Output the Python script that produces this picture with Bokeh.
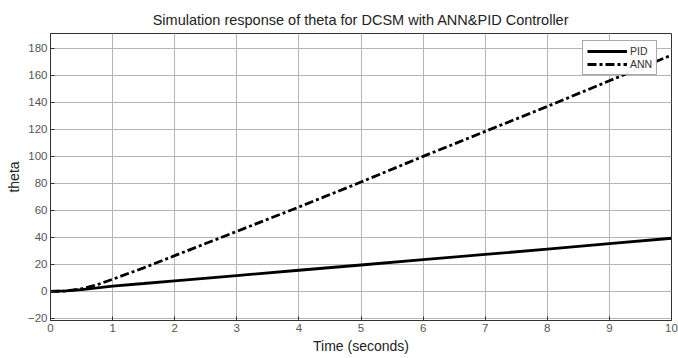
from bokeh.plotting import figure
from bokeh.models import Range1d, FixedTicker, Legend, LegendItem
from bokeh.embed import file_html
from bokeh.resources import INLINE

# Data
time_s = [0, 0.25, 0.5, 0.75, 1, 1.5, 2, 3, 4, 5, 6, 7, 8, 9, 10]
pid_theta = [0, 0.4, 1.3, 2.6, 4, 5.9, 7.9, 11.8, 15.7, 19.6, 23.5, 27.4, 31.4, 35.4, 39.4]
ann_theta = [0, 0.3, 2, 5, 9, 17.5, 26.5, 44.5, 62.5, 81, 100, 118.5, 137, 156, 175]
x_ticks = list(range(0, 11))
y_ticks = list(range(-20, 181, 20))

FONT = "Liberation Sans"

p = figure(width=678, height=358, output_backend="svg", toolbar_location=None,
           x_range=Range1d(0, 10), y_range=Range1d(-21.5, 191),
           min_border_left=50, min_border_right=7, min_border_top=33, min_border_bottom=38)

p.title.text = "Simulation response of theta for DCSM with ANN&PID Controller"
p.title.text_font = FONT
p.title.text_font_size = "14.5px"
p.title.text_font_style = "normal"
p.title.text_color = "#222222"
p.title.align = "center"
p.title.offset = 12
p.title.standoff = 11

p.outline_line_color = "#333333"
p.outline_line_width = 1

for ax in (p.xaxis[0], p.yaxis[0]):
    ax.axis_line_color = "#333333"
    ax.major_tick_in = 4
    ax.major_tick_out = 0
    ax.minor_tick_line_color = None
    ax.major_tick_line_color = "#333333"
    ax.major_label_text_font = FONT
    ax.major_label_text_font_size = "11.5px"
    ax.major_label_text_color = "#555555"
    ax.axis_label_text_font = FONT
    ax.axis_label_text_font_size = "14px"
    ax.axis_label_text_font_style = "normal"
    ax.axis_label_text_color = "#222222"

p.xaxis.ticker = FixedTicker(ticks=x_ticks)
p.yaxis.ticker = FixedTicker(ticks=y_ticks)
p.xaxis.axis_label = "Time (seconds)"
p.yaxis.axis_label = "theta"
p.xaxis.major_label_standoff = 3
p.yaxis.major_label_standoff = 3
p.xaxis.axis_label_standoff = 3
p.yaxis.axis_label_standoff = 3

p.xgrid.grid_line_color = "#b5b5b5"
p.ygrid.grid_line_color = "#b5b5b5"
p.xgrid.ticker = FixedTicker(ticks=x_ticks)
p.ygrid.ticker = FixedTicker(ticks=y_ticks)

r_pid = p.line(time_s, pid_theta, line_color="black", line_width=2.8)
r_ann = p.line(time_s, ann_theta, line_color="black", line_width=2.8, line_dash="9 3 3 3")

legend = Legend(items=[LegendItem(label="PID", renderers=[r_pid]),
                       LegendItem(label="ANN", renderers=[r_ann])],
                location=(532, 245))
legend.label_text_font = FONT
legend.label_text_font_size = "10.5px"
legend.label_text_color = "#333333"
legend.glyph_width = 40
legend.glyph_height = 12
legend.label_height = 12
legend.label_standoff = 3
legend.spacing = 1
legend.padding = 4
legend.margin = 0
legend.border_line_color = "#555555"
legend.border_line_width = 1
legend.background_fill_color = "white"
p.add_layout(legend, "center")

open("out.html", "w").write(file_html(p, INLINE))
